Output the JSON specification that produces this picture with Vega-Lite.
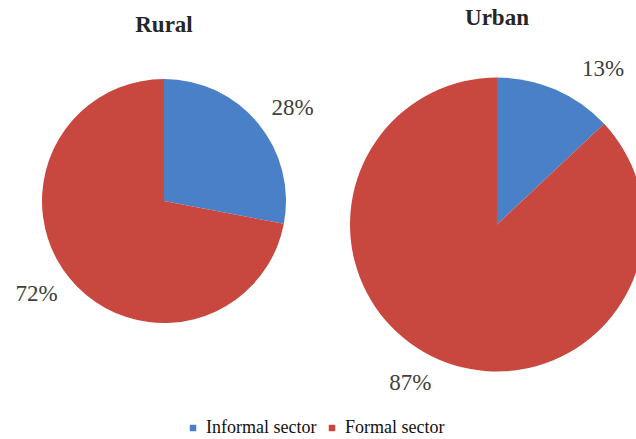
{
  "$schema": "https://vega.github.io/schema/vega-lite/v6.json",
  "padding": {"left": 0, "top": 7, "right": -8, "bottom": 0},
  "background": "white",
  "datasets": {
    "shares": [
      {"area": "Rural", "sector": "Informal sector", "value": 28, "label": "28%"},
      {"area": "Rural", "sector": "Formal sector", "value": 72, "label": "72%"},
      {"area": "Urban", "sector": "Informal sector", "value": 13, "label": "13%"},
      {"area": "Urban", "sector": "Formal sector", "value": 87, "label": "87%"}
    ]
  },
  "data": {"name": "shares"},
  "bounds": "flush",
  "spacing": 22,
  "hconcat": [
    {
      "width": 328,
      "height": 310,
      "title": {"text": "Rural", "fontSize": 23, "fontWeight": "bold", "font": "Liberation Serif", "color": "#262626", "offset": 9},
      "transform": [{"filter": "datum.area === 'Rural'"}],
      "layer": [
        {
          "mark": {"type": "arc", "outerRadius": 122},
          "encoding": {
            "theta": {"field": "value", "type": "quantitative", "stack": true},
            "color": {"field": "sector", "type": "nominal", "scale": {"domain": ["Informal sector", "Formal sector"], "range": ["#4A80C8", "#C8483F"]}, "legend": {"title": null, "orient": "none", "legendX": 184, "legendY": 373}},
            "order": {"field": "sector", "sort": "descending"}
          }
        },
        {
          "mark": {"type": "text", "radius": 146, "dx": 16, "fontSize": 23, "font": "Liberation Serif", "color": "#404040"},
          "encoding": {
            "theta": {"field": "value", "type": "quantitative", "stack": true},
            "detail": {"field": "sector"},
            "order": {"field": "sector", "sort": "descending"},
            "text": {"condition": {"test": "datum.sector === 'Informal sector'", "field": "label"}, "value": ""}
          }
        },
        {
          "mark": {"type": "text", "radius": 146, "dx": -15, "fontSize": 23, "font": "Liberation Serif", "color": "#404040"},
          "encoding": {
            "theta": {"field": "value", "type": "quantitative", "stack": true},
            "detail": {"field": "sector"},
            "order": {"field": "sector", "sort": "descending"},
            "text": {"condition": {"test": "datum.sector === 'Formal sector'", "field": "label"}, "value": ""}
          }
        }
      ]
    },
    {
      "width": 294,
      "height": 357,
      "title": {"text": "Urban", "fontSize": 23, "fontWeight": "bold", "font": "Liberation Serif", "color": "#262626", "offset": 16},
      "transform": [{"filter": "datum.area === 'Urban'"}],
      "layer": [
        {
          "mark": {"type": "arc", "outerRadius": 147},
          "encoding": {
            "theta": {"field": "value", "type": "quantitative", "stack": true},
            "color": {"field": "sector", "type": "nominal", "scale": {"domain": ["Informal sector", "Formal sector"], "range": ["#4A80C8", "#C8483F"]}, "legend": {"title": null, "orient": "none", "legendX": 184, "legendY": 373}},
            "order": {"field": "sector", "sort": "descending"}
          }
        },
        {
          "mark": {"type": "text", "radius": 169, "dx": 39, "fontSize": 23, "font": "Liberation Serif", "color": "#404040"},
          "encoding": {
            "theta": {"field": "value", "type": "quantitative", "stack": true},
            "detail": {"field": "sector"},
            "order": {"field": "sector", "sort": "descending"},
            "text": {"condition": {"test": "datum.sector === 'Informal sector'", "field": "label"}, "value": ""}
          }
        },
        {
          "mark": {"type": "text", "radius": 173, "dx": -18, "fontSize": 23, "font": "Liberation Serif", "color": "#404040"},
          "encoding": {
            "theta": {"field": "value", "type": "quantitative", "stack": true},
            "detail": {"field": "sector"},
            "order": {"field": "sector", "sort": "descending"},
            "text": {"condition": {"test": "datum.sector === 'Formal sector'", "field": "label"}, "value": ""}
          }
        }
      ]
    }
  ],
  "resolve": {"scale": {"color": "shared", "theta": "independent"}},
  "config": {
    "view": {"stroke": null},
    "font": "Liberation Serif",
    "legend": {
      "direction": "horizontal",
      "symbolType": "square",
      "symbolSize": 42,
      "symbolStrokeWidth": 0,
      "labelFont": "Liberation Serif",
      "labelFontSize": 18,
      "labelColor": "#111111",
      "columnPadding": 6,
      "symbolOffset": 0,
      "labelOffset": 4
    }
  }
}
